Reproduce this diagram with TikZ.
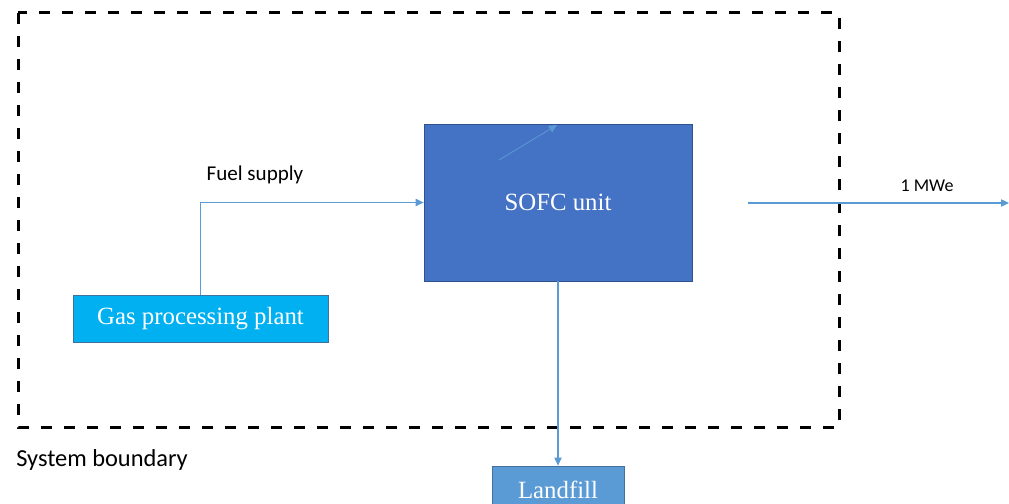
\documentclass[tikz,border=0pt]{standalone}
\usepackage{fontspec}
\setmainfont{Liberation Serif}
\newfontfamily\labelfont{Carlito}
\usetikzlibrary{arrows.meta}

\definecolor{sofcblue}{HTML}{4472C4}
\definecolor{sofcedge}{HTML}{2F528F}
\definecolor{gasblue}{HTML}{00B0F0}
\definecolor{boxedge}{HTML}{41719C}
\definecolor{fillblue}{HTML}{5B9BD5}
\definecolor{flowblue}{HTML}{5B9BD5}

\tikzset{
  unitbox/.style={draw=#1, line width=0.6pt, inner sep=0pt, text=white,
    font=\fontsize{18.6}{22}\selectfont},
  flow/.style={draw=flowblue, line width=0.8pt,
    -{Triangle[length=6pt,width=5.5pt]}},
  note/.style={font=\labelfont\fontsize{12}{14}\selectfont, inner sep=0pt},
  boundary/.style={draw=black, line width=2.25pt, dash pattern=on 8.25pt off 9pt}
}

\begin{document}
\begin{tikzpicture}[x=0.75pt, y=-0.75pt]
\useasboundingbox (0,0) rectangle (1009,503);

% system boundary
\draw[boundary] (18,13) rectangle (839,427);
\node[note, anchor=west, font=\labelfont\fontsize{18.3}{21}\selectfont] (sysb) at (16,460) {System boundary};

% process units
\node[unitbox=sofcedge, fill=sofcblue, minimum width=201pt, minimum height=117.75pt] (sofc) at (558,202.5) {SOFC unit};
\node[unitbox=boxedge, fill=gasblue, minimum width=191.25pt, minimum height=35.25pt] (gas) at (200.5,318.5) {Gas processing plant};
\node[unitbox=boxedge, fill=fillblue, minimum width=99pt, minimum height=35.25pt] (landfill) at (558,489.5) {Landfill};

% flows
\draw[flow] (gas.north) |- (sofc.west);
\node[note, font=\labelfont\fontsize{15.8}{18}\selectfont] (fuel) at (255,175) {Fuel supply};

\coordinate (pwrA) at (748,203);
\coordinate (pwrB) at (1009,203);
\draw[flow] (pwrA) -- (pwrB);
\node[note, font=\labelfont\fontsize{13.5}{16}\selectfont] (mwe) at (927,186) {1 MWe};

\draw[flow] (sofc.south) -- (landfill.north);

% small arrow inside the SOFC box
\coordinate (inA) at (499,160);
\coordinate (inB) at (557,125);
\draw[flow, line width=0.6pt] (inA) -- (inB);
\end{tikzpicture}
\end{document}
